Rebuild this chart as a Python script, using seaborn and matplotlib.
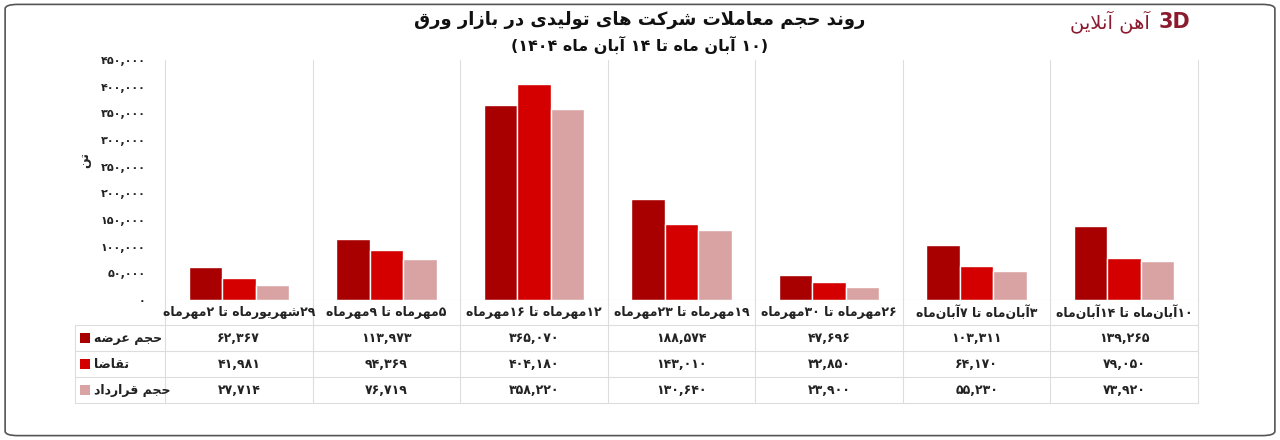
import unicodedata, re
import numpy as np, pandas as pd
import matplotlib
matplotlib.use("Agg")
import matplotlib.pyplot as plt
import seaborn as sns
from matplotlib.patches import FancyBboxPatch, Rectangle

categories = ["۲۹شهریورماه تا ۲مهرماه", "۵مهرماه تا ۹مهرماه", "۱۲مهرماه تا ۱۶مهرماه",
              "۱۹مهرماه تا ۲۳مهرماه", "۲۶مهرماه تا ۳۰مهرماه", "۳آبان\u200cماه تا ۷آبان\u200cماه",
              "۱۰آبان\u200cماه تا ۱۴آبان\u200cماه"]
series_names = ["حجم عرضه", "تقاضا", "حجم قرارداد"]
supply = [62367, 113973, 365070, 188574, 47696, 103311, 139265]
demand = [41981, 94369, 404180, 143010, 32850, 64170, 79050]
contract = [27714, 76719, 358220, 130640, 23900, 55230, 73920]
yticks = [0, 50000, 100000, 150000, 200000, 250000, 300000, 350000, 400000, 450000]
colors = ["#A80000", "#D40000", "#D9A3A3"]
title1 = "روند حجم معاملات شرکت های تولیدی در بازار ورق"
title2 = "(۱۰ آبان ماه تا ۱۴ آبان ماه ۱۴۰۴)"
ylabel = "تن"
logo = "آهن آنلاین"

# ---- minimal Arabic/Persian shaping + visual reordering ----
RIGHT = set("اآأإدذرزژوؤة")
def is_ar(c):
    return '\u0621' <= c <= '\u06D3' and not ('\u064B' <= c <= '\u065F') and not ('\u0660' <= c <= '\u0669')
def form(c, f):
    try:
        return unicodedata.lookup(unicodedata.name(c) + " " + f + " FORM")
    except Exception:
        return c
def shape(s):
    out = []; i = 0; n = len(s)
    def prev_dual(i):
        return i > 0 and is_ar(s[i-1]) and s[i-1] not in RIGHT
    while i < n:
        c = s[i]
        if c == '\u200c':
            i += 1; continue
        if not is_ar(c):
            out.append(c); i += 1; continue
        if c == 'ل' and i+1 < n and s[i+1] in 'اآ':
            base = "ARABIC LIGATURE LAM WITH ALEF" + (" WITH MADDA ABOVE" if s[i+1] == 'آ' else "")
            f = "FINAL" if prev_dual(i) else "ISOLATED"
            try: out.append(unicodedata.lookup(base + " " + f + " FORM"))
            except Exception: out.append(c + s[i+1])
            i += 2; continue
        p = prev_dual(i)
        nx = c not in RIGHT and i+1 < n and is_ar(s[i+1])
        f = "MEDIAL" if (p and nx) else "FINAL" if p else "INITIAL" if nx else "ISOLATED"
        out.append(form(c, f)); i += 1
    return "".join(out)
MIR = {"(": ")", ")": "("}
def rtl(s):
    s = shape(s)
    toks = re.findall(r"[۰-۹0-9][۰-۹0-9,٬.]*|[^۰-۹0-9]+", s)
    res = []
    for t in reversed(toks):
        if re.match(r"[۰-۹0-9]", t):
            res.append(t)
        else:
            res.append("".join(MIR.get(ch, ch) for ch in reversed(t)))
    return "".join(res)
PD = str.maketrans("0123456789", "۰۱۲۳۴۵۶۷۸۹")
def fa(v):
    return f"{v:,}".translate(PD)

sns.set_theme(style="white")
plt.rcParams['font.family'] = ['DejaVu Sans']

df = pd.DataFrame({
    "cat": categories * 3,
    "series": sum([[s]*7 for s in series_names], []),
    "value": supply + demand + contract,
})

fig = plt.figure(figsize=(12.8, 4.4), dpi=100)
fig.patches.append(FancyBboxPatch((0.004, 0.01), 0.992, 0.98, boxstyle="round,pad=0,rounding_size=0.01",
                                  transform=fig.transFigure, fc="white", ec="#555555", lw=1.2, zorder=-1))
ax = fig.add_axes([165/1280, 1-300/440, (1198-165)/1280, 240/440])
sns.barplot(data=df, x="cat", y="value", hue="series", palette=colors, ax=ax,
            width=0.68, gap=0.0, legend=False, saturation=1)
ax.set_ylim(0, 450000)
ax.set_xlim(-0.5, 6.5)
ax.set_yticks(yticks)
ax.set_yticklabels([fa(v) for v in yticks], fontsize=8, fontweight="bold", color="#222")
ax.set_xticks([]); ax.set_xlabel(""); ax.set_ylabel("")
for sp in ["top", "right", "bottom", "left"]:
    ax.spines[sp].set_visible(False)
ax.tick_params(axis="y", length=0, pad=14)
for k in range(8):
    ax.axvline(k - 0.5, color="#dddddd", lw=0.8, ymin=0, ymax=1, clip_on=False)
ax.axhline(0, color="#cccccc", lw=0.8)

# table
tr = ax.transData
rows_px = [300, 325, 351, 377, 403]
def fy(px): return 1 - px/440
left_f = 75/1280
xs_f = [fig.transFigure.inverted().transform(tr.transform((k - 0.5, 0)))[0] for k in range(8)]
for y in rows_px[1:]:
    fig.add_artist(plt.Line2D([left_f, xs_f[-1]], [fy(y)]*2, color="#dddddd", lw=0.8))
for x in xs_f:
    fig.add_artist(plt.Line2D([x, x], [fy(rows_px[0]), fy(rows_px[-1])], color="#dddddd", lw=0.8))
fig.add_artist(plt.Line2D([left_f, left_f], [fy(rows_px[1]), fy(rows_px[-1])], color="#dddddd", lw=0.8))
for k, c in enumerate(categories):
    xc = (xs_f[k] + xs_f[k+1]) / 2
    fig.text(xc, fy((rows_px[0]+rows_px[1])/2), rtl(c), ha="center", va="center", fontsize=9, fontweight="bold", color="#222")
    for r, vals in enumerate([supply, demand, contract]):
        fig.text(xc, fy((rows_px[r+1]+rows_px[r+2])/2), fa(vals[k]), ha="center", va="center",
                 fontsize=9, fontweight="bold", color="#222")
for r, name in enumerate(series_names):
    yc = fy((rows_px[r+1]+rows_px[r+2])/2)
    fig.patches.append(Rectangle((80/1280, yc - 5/440), 10/1280, 10/440, transform=fig.transFigure,
                                 fc=colors[r], ec="none"))
    fig.text(94/1280, yc, rtl(name), ha="left", va="center", fontsize=9, fontweight="bold", color="#222")

fig.text(85/1280, fy(160), rtl(ylabel), rotation=90, ha="center", va="center", fontsize=9, fontweight="bold")
fig.text(0.5, fy(20), rtl(title1), ha="center", va="center", fontsize=13, fontweight="bold", color="#111")
fig.text(0.5, fy(45), rtl(title2), ha="center", va="center", fontsize=11.5, fontweight="bold", color="#111")
fig.text(1150/1280, fy(22), rtl(logo), ha="right", va="center", fontsize=14, color="#8B1A2E")
fig.text(1190/1280, fy(22), "3D", ha="right", va="center", fontsize=15, color="#8B1A2E", fontweight="bold")

fig.savefig("out.png", dpi=100)
